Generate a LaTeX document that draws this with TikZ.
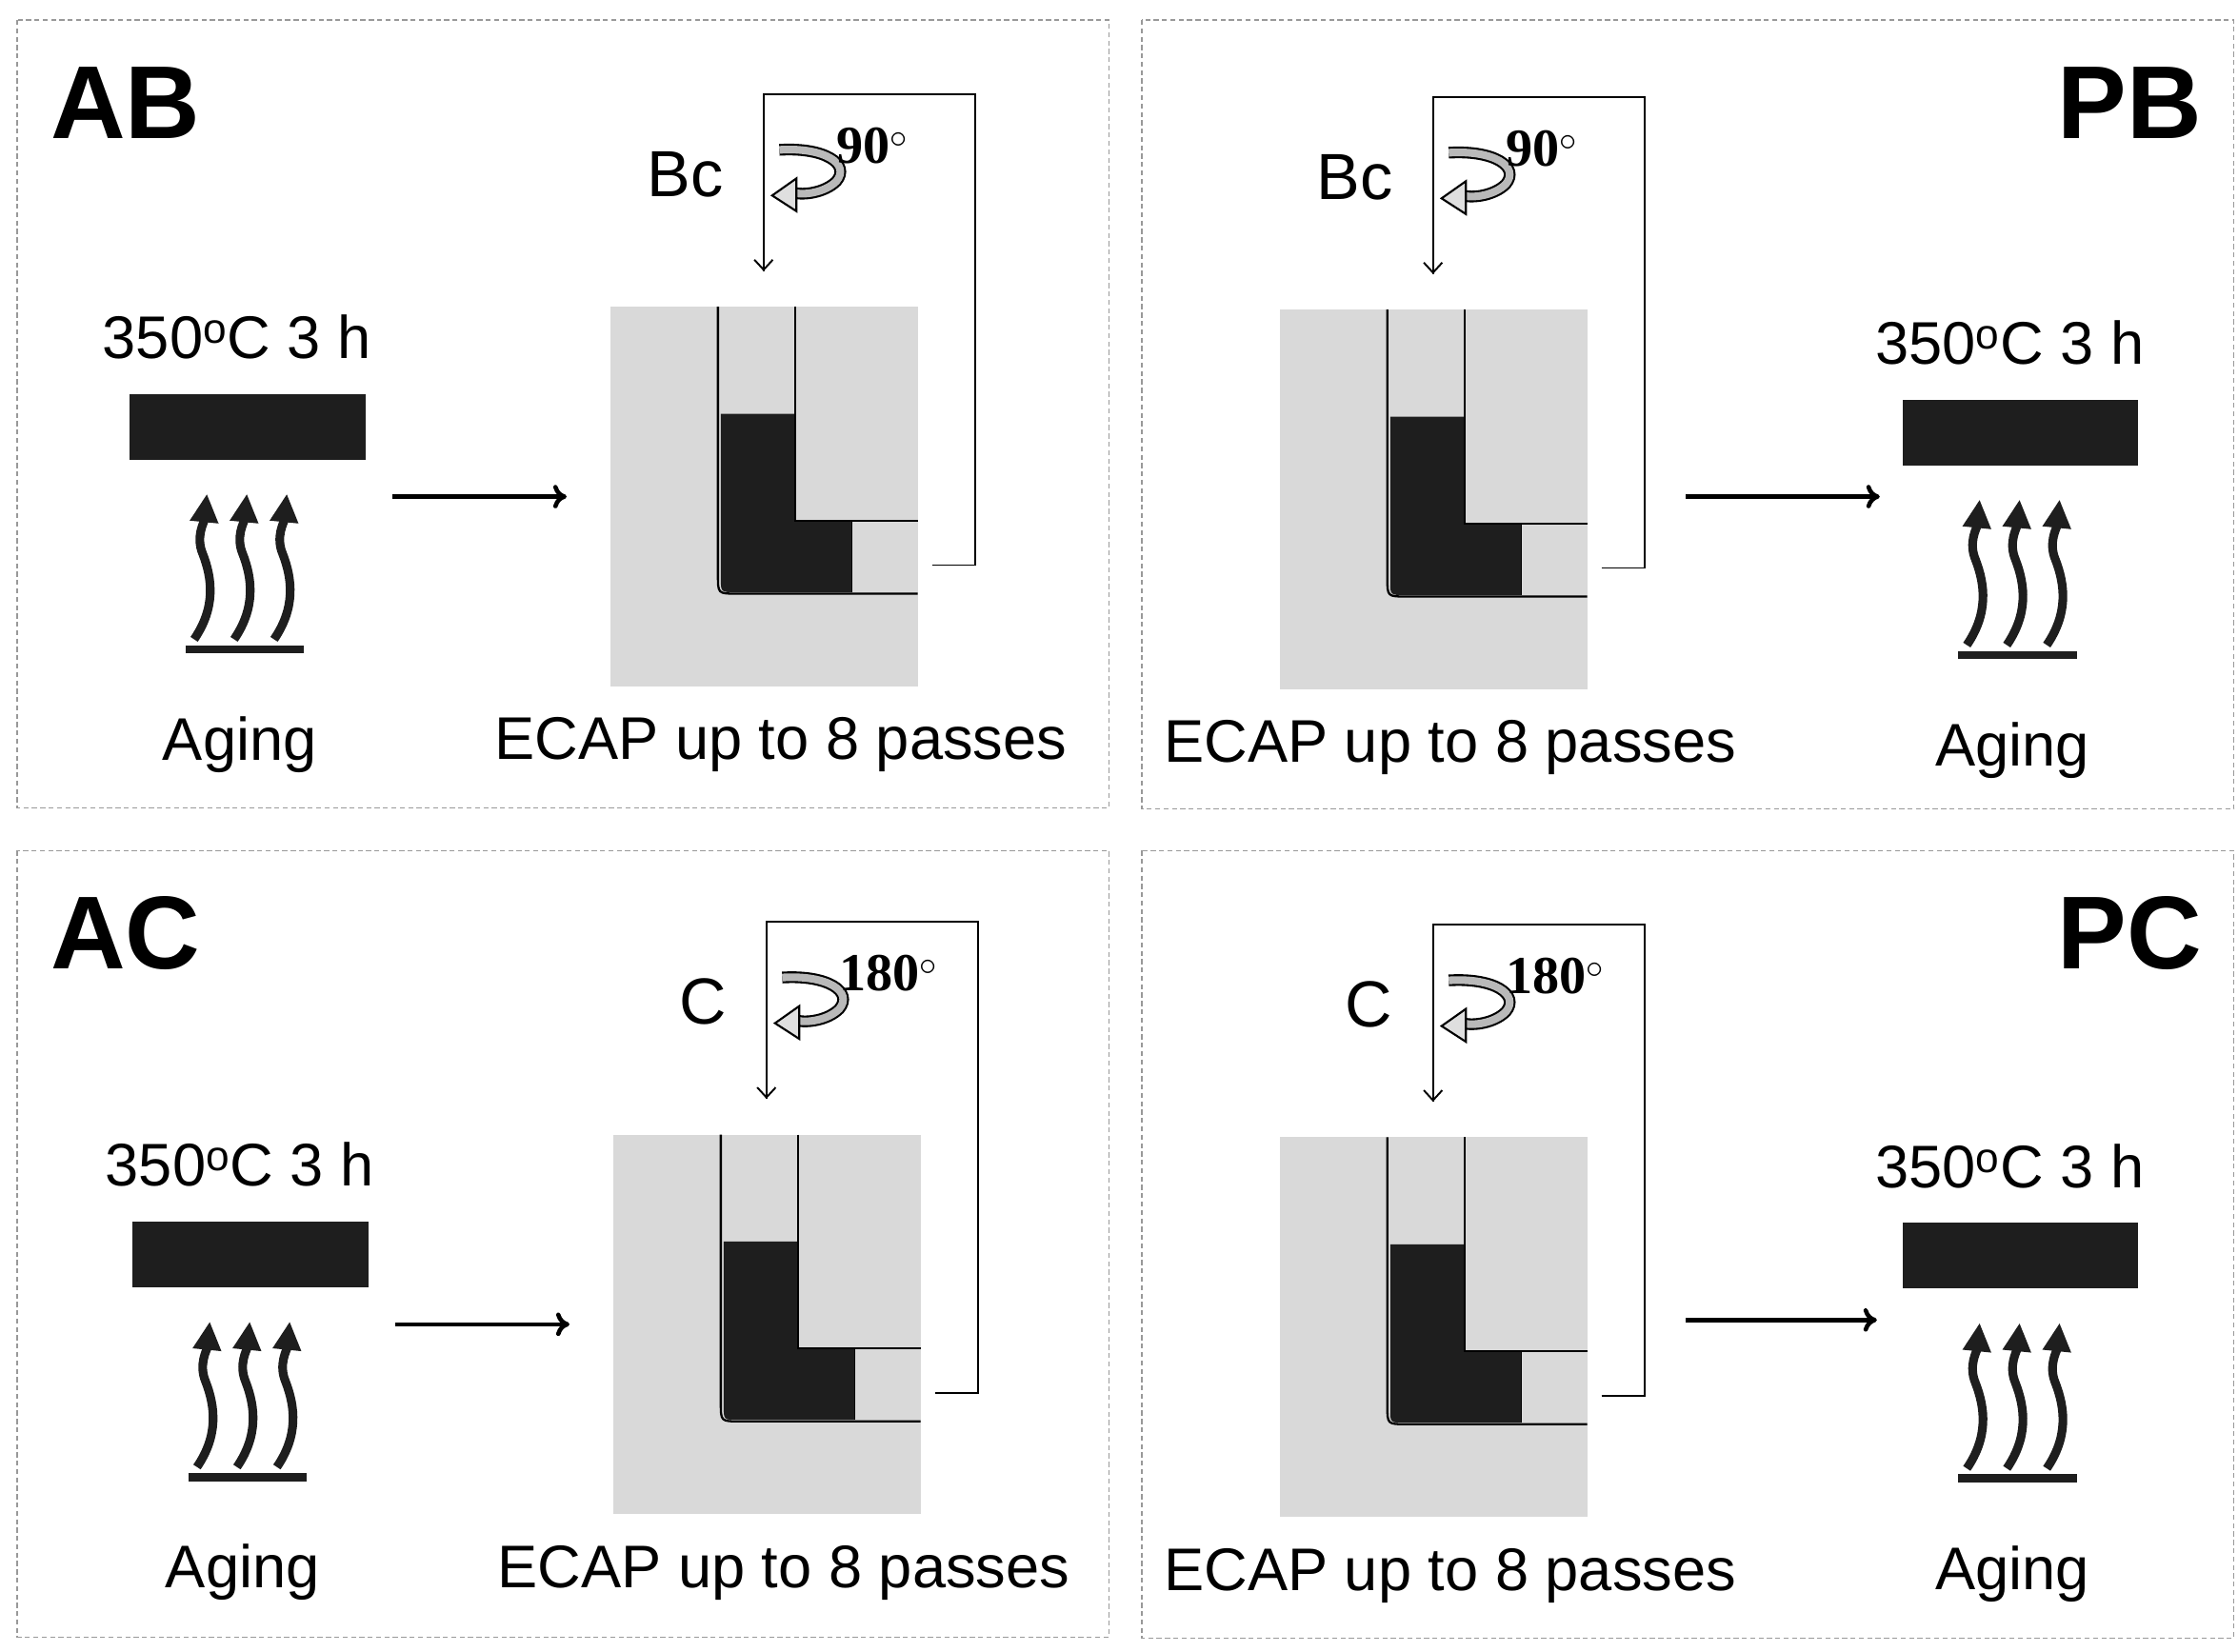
\documentclass[tikz,border=0pt]{standalone}
\usepackage{fontspec}
\setmainfont{Liberation Sans}
\newfontfamily\serifb{Liberation Serif}
\usetikzlibrary{arrows.meta}
\definecolor{diegray}{HTML}{D9D9D9}
\definecolor{blk}{HTML}{1E1E1E}
\tikzset{
  frame/.style={draw=gray!80, line width=0.6pt, dash pattern=on 3pt off 2pt},
  lbl/.style={font=\fontsize{36}{40}\selectfont, inner sep=0},
  title/.style={font=\fontsize{62}{66}\selectfont\bfseries, inner sep=0},
  rot/.style={font=\fontsize{39}{42}\selectfont, inner sep=0},
  deg/.style={font=\fontsize{32}{34}\selectfont\serifb\bfseries, inner sep=0},
  flow/.style={line width=2.6pt, -{To[length=8pt,width=14pt]}},
  chan/.style={line width=1.3pt},
  fb/.style={line width=1.1pt},
}
% heat symbol: #1 name prefix, #2 center x, #3 bar top y
\newcommand\heatsym[3]{%
  \begin{scope}[shift={(#2,#3)}]
    \node[lbl] (#1t) at (-7,-40) {350\textsuperscript{o}C 3 h};
    \fill[blk] (-82,0) rectangle (83,46);
    \node[inner sep=0] (#1b) at (0,23) {};
    \foreach \dx in {-28,0,28}{
      \draw[blk, line width=5.2pt, -{Triangle[length=17pt,width=16pt]}]
        (\dx-9,172) .. controls (\dx+6,150) and (\dx+4,130) .. (\dx-3,112)
        .. controls (\dx-8,100) and (\dx-2,90) .. (\dx,70);
    }
    \draw[blk, line width=5pt] (-43,179) -- (40,179);
    \node[lbl] (#1a) at (-5,246) {Aging};
  \end{scope}}
% ECAP die: #1 prefix, #2 x, #3 y (top-left), #4 route letter, #5 angle
\newcommand\ecapdie[5]{%
  \begin{scope}[shift={(#2,#3)}]
    \fill[diegray] (0,0) rectangle (215,266);
    \node[inner sep=0] (#1d) at (107,133) {};
    \fill[blk] (77,75) -- (129,75) -- (129,150) -- (169,150) -- (169,200) -- (87,200)
      .. controls (77,200) .. (77,190) -- cycle;
    \draw[chan] (75,0) -- (75,188) .. controls (75,201) .. (88,201) -- (215,201);
    \draw[chan] (129,0) -- (129,150) -- (215,150);
    \draw[line width=0.8pt] (169,150) -- (169,200);
    \coordinate (#1o) at (225,181);
    \coordinate (#1r) at (255,181);
    \coordinate (#1q) at (255,-149);
    \coordinate (#1p) at (107,-149);
    \coordinate (#1e) at (107,-25);
    \draw[fb] (#1o) -- (#1r) -- (#1q) -- (#1p) -- (#1e);
    \draw[fb, -{Straight Barb[length=6pt,width=11pt]}] (#1p) -- (#1e);
    \node[rot, anchor=east] (#1l) at (79,-93) {#4};
    % rotation arrow
    \draw[black, line width=7pt] (118,-110) .. controls (150,-112) and (168,-100) .. (158,-88)
      .. controls (150,-80) and (135,-78) .. (128,-80);
    \draw[gray!55, line width=4.6pt] (118,-110) .. controls (150,-112) and (168,-100) .. (158,-88)
      .. controls (150,-80) and (135,-78) .. (128,-80);
    \filldraw[fill=gray!25, draw=black, line width=1.2pt] (130,-90) -- (113,-78) -- (130,-67) -- cycle;
    \node[deg, anchor=west] (#1g) at (158,-113) {#5$^\circ$};
    \node[lbl] (#1c) at (119,307) {ECAP up to 8 passes};
  \end{scope}}
\begin{document}
\begin{tikzpicture}[x=0.3mm, y=-0.3mm]
\useasboundingbox (0,0) rectangle (1568,1157);
% frames
\draw[frame] (12,14) rectangle (777,566);
\draw[frame] (800,14) rectangle (1565,567);
\draw[frame] (12,596) rectangle (777,1147);
\draw[frame] (800,596) rectangle (1565,1148);
% titles
\node[title] (tAB) at (88,72) {AB};
\node[title] (tPB) at (1492,72) {PB};
\node[title] (tAC) at (88,654) {AC};
\node[title] (tPC) at (1492,654) {PC};
% AB
\heatsym{h1}{173}{276}
\ecapdie{d1}{428}{215}{Bc}{90}
\draw[flow] (275,348) -- (397,348);
% PB
\ecapdie{d2}{897}{217}{Bc}{90}
\heatsym{h2}{1415}{280}
\draw[flow] (1181,348) -- (1317,348);
% AC
\heatsym{h3}{175}{856}
\ecapdie{d3}{430}{795}{C}{180}
\draw[flow] (277,928) -- (399,928);
% PC
\ecapdie{d4}{897}{797}{C}{180}
\heatsym{h4}{1415}{857}
\draw[flow] (1181,925) -- (1315,925);
\end{tikzpicture}
\end{document}
